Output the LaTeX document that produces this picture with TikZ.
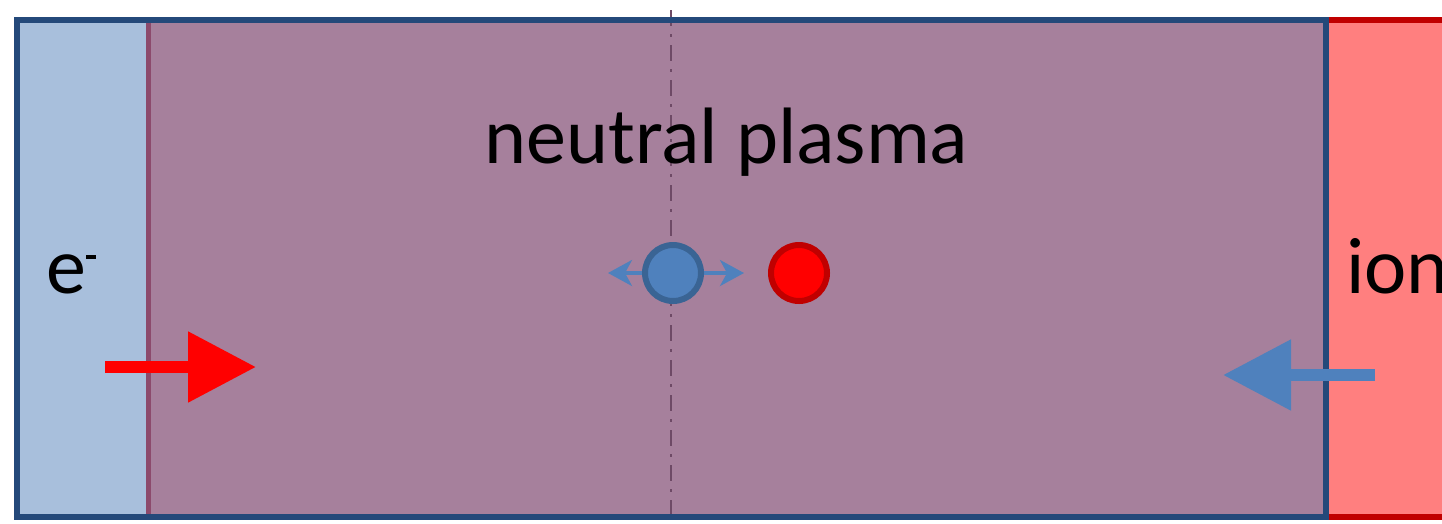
\documentclass[tikz,border=0pt]{standalone}
\usepackage{fontspec}
\setmainfont{Carlito}
\usetikzlibrary{arrows.meta}
\definecolor{outerblue}{HTML}{24497A}
\definecolor{lightblue}{HTML}{A8BFDC}
\definecolor{plasma}{HTML}{A6809C}
\definecolor{sheathline}{HTML}{8C4A6C}
\definecolor{pinkfill}{HTML}{FF7F7F}
\definecolor{darkred}{HTML}{C00000}
\definecolor{accent}{HTML}{4F81BD}
\definecolor{accentdark}{HTML}{3A6494}
\definecolor{axis}{HTML}{6E4A66}
\tikzset{
  lbl/.style={inner sep=0pt, font=\fontsize{80}{96}\selectfont, text=black},
  particle/.style={circle, minimum size=56pt, inner sep=0pt, line width=6pt},
  bigarrow/.style={line width=12pt, -{Triangle[length=68pt,width=68pt]}},
  smallarrow/.style={draw=accent, line width=3.5pt, {Stealth[length=24pt,width=26pt,inset=7pt]}-{Stealth[length=24pt,width=26pt,inset=7pt]}}
}
\begin{document}
\begin{tikzpicture}[x=1pt,y=-1pt]
\useasboundingbox (0,0) rectangle (1442,523);
\clip (0,0) rectangle (1442,523);
\fill[white] (0,0) rectangle (1442,523);
% ion region
\filldraw[fill=pinkfill, draw=darkred, line width=6.5pt] (1326,20) rectangle (1470,517);
% sheath and plasma
\fill[lightblue] (17,20) rectangle (147,517);
\fill[plasma] (147,20) rectangle (1326,517);
\draw[sheathline, line width=5pt] (148,20) -- (148,517);
% axis
\coordinate (axtop) at (671,10);
\coordinate (axbot) at (671,523);
\draw[axis, line width=2pt, dash pattern=on 16pt off 8pt on 3pt off 8pt] (axtop) -- (axbot);
% outer frame
\draw[outerblue, line width=6.5pt] (17,20) rectangle (1326,517);
% labels
\node[lbl, anchor=base] (title) at (726.5,163) {neutral plasma};
\node[lbl, anchor=base west] (elec) at (46,293) {e\raisebox{34pt}{\rule{10pt}{4pt}}};
\node[lbl, anchor=base west] (ion) at (1346,293) {ion};
% particles
\coordinate (eleft) at (608,273);
\coordinate (eright) at (744,273);
\draw[smallarrow] (eleft) -- (eright);
\node[particle, fill=accent, draw=accentdark] (e) at (673,273) {};
\node[particle, fill=red, draw=darkred] (p) at (799,273) {};
% flux arrows
\coordinate (ra1) at (105,367);
\coordinate (ra2) at (256,367);
\draw[bigarrow, red] (ra1) -- (ra2);
\coordinate (ba1) at (1375,375);
\coordinate (ba2) at (1223,375);
\draw[bigarrow, accent] (ba1) -- (ba2);
\end{tikzpicture}
\end{document}
